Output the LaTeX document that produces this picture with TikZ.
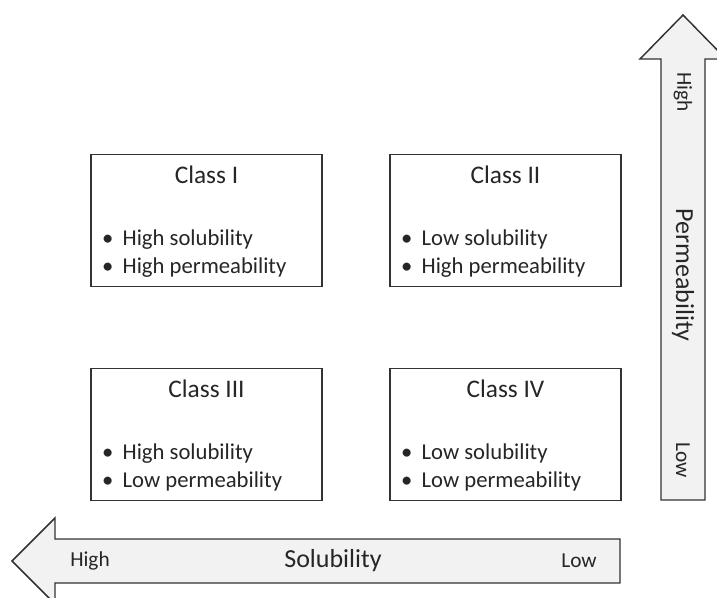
\documentclass[tikz,border=0pt]{standalone}
\usepackage{fontspec}
\setmainfont{Carlito}
\usetikzlibrary{positioning}

\newcommand{\bcsitem}[1]{\makebox[15.5pt][l]{\textbullet}#1}

\begin{document}
\begin{tikzpicture}[
    x=0.75pt, y=-0.75pt,
    line width=1.1pt,
    classbox/.style={draw=black!80, fill=white, minimum width=173.25pt, minimum height=99pt, inner sep=0pt},
    classtitle/.style={anchor=base, font=\fontsize{19}{23}\selectfont, text=black!85},
    classlist/.style={anchor=base west, align=left, inner sep=0pt, font=\fontsize{17}{21}\selectfont, text=black!85},
    axisarrow/.style={draw=black!80, fill=black!5, line join=miter},
    axisname/.style={font=\fontsize{19.5}{23}\selectfont, text=black!85},
    axisend/.style={font=\fontsize{16}{19}\selectfont, text=black!85}
]
\useasboundingbox (0,0) rectangle (717,598);

% the four classes
\node[classbox] (c1) at (206.5,220.5) {};
\node[classbox] (c2) at (505.5,220.5) {};
\node[classbox] (c3) at (206.5,434.5) {};
\node[classbox] (c4) at (505.5,434.5) {};

\node[classtitle, yshift=-22.5pt] (t1) at (c1.north) {Class I};
\node[classtitle, yshift=-22.5pt] (t2) at (c2.north) {Class II};
\node[classtitle, yshift=-22.5pt] (t3) at (c3.north) {Class III};
\node[classtitle, yshift=-22.5pt] (t4) at (c4.north) {Class IV};

\node[classlist, xshift=8.25pt, yshift=-90pt] (l1) at (c1.north west) {\bcsitem{High solubility}\\\bcsitem{High permeability}};
\node[classlist, xshift=8.25pt, yshift=-90pt] (l2) at (c2.north west) {\bcsitem{Low solubility}\\\bcsitem{High permeability}};
\node[classlist, xshift=8.25pt, yshift=-90pt] (l3) at (c3.north west) {\bcsitem{High solubility}\\\bcsitem{Low permeability}};
\node[classlist, xshift=8.25pt, yshift=-90pt] (l4) at (c4.north west) {\bcsitem{Low solubility}\\\bcsitem{Low permeability}};

% permeability axis
\draw[axisarrow] (661,500) -- (661,59) -- (640,59) -- (683,15) -- (726,59) -- (705,59) -- (705,500) -- cycle;
\node[axisend, rotate=-90] (phigh) at (683,92) {High};
\node[axisname, rotate=-90] (perm) at (683,275) {Permeability};
\node[axisend, rotate=-90] (plow) at (683,460) {Low};

% solubility axis
\draw[axisarrow] (620,539) -- (55,539) -- (55,518) -- (12,561) -- (55,604) -- (55,583) -- (620,583) -- cycle;
\node[axisend] (shigh) at (90,561) {High};
\node[axisname] (sol) at (333,561) {Solubility};
\node[axisend] (slow) at (579,561) {Low};

\end{tikzpicture}
\end{document}
